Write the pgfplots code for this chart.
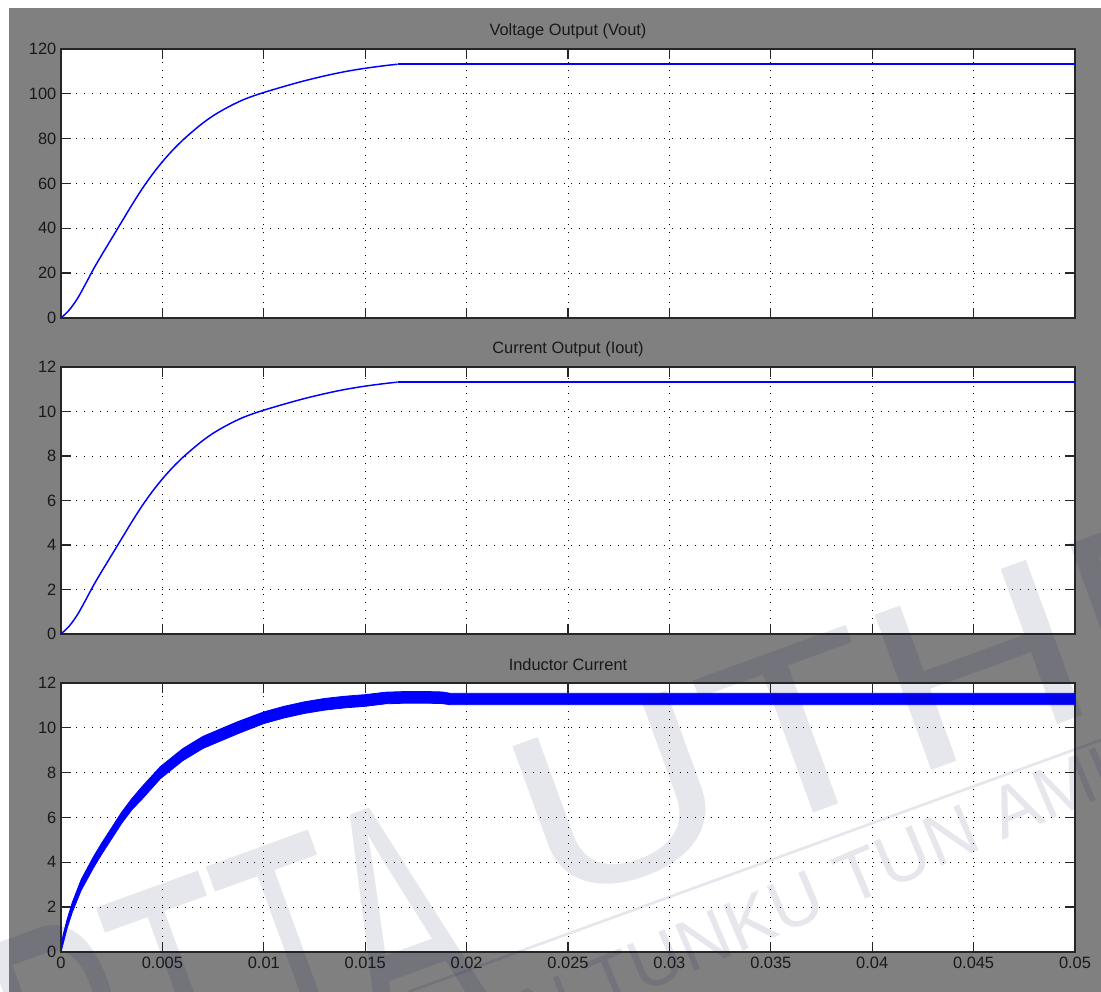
\documentclass[border=0pt]{standalone}
\usepackage{fontspec}
\setmainfont{Liberation Sans}
\usepackage{graphicx}
\usepackage{pgfplots}
\pgfplotsset{compat=1.18}
\definecolor{figgray}{RGB}{128,128,128}
\definecolor{mlblue}{RGB}{0,0,255}
\definecolor{wm}{RGB}{10,10,80}

\pgfplotsset{ml/.style={
  scale only axis, width=760.5pt, xmin=0, xmax=0.05,
  axis background/.style={fill=white},
  xtick={0,0.005,0.01,0.015,0.02,0.025,0.03,0.035,0.04,0.045,0.05},
  scaled x ticks=false, scaled y ticks=false,
  grid=major,
  major grid style={black, line width=0.7pt, dash pattern=on 0.7pt off 5.1pt},
  tick align=inside, major tick length=7.5pt,
  tick style={black!85, line width=1pt},
  axis line style={black!85, line width=1pt},
  tick label style={font=\fontsize{12.3}{14}\selectfont, text=black!90},
  /pgf/number format/assume math mode=true,
  title style={font=\fontsize{12.3}{14}\selectfont, anchor=center, yshift=7.5pt, inner sep=0pt, text=black!90},
}}

\begin{document}
\begin{tikzpicture}
\fill[white] (0,0) rectangle (825.75pt,744pt);
\fill[figgray] (6.75pt,0) rectangle (825.75pt,738pt);

% ---------- Voltage Output ----------
\begin{axis}[ml, at={(45.75pt,505.5pt)}, anchor=south west, height=201.75pt,
  ymin=0, ymax=120, ytick={0,20,40,60,80,100,120}, xticklabels={},
  title={Voltage Output (Vout)}]
\addplot[mlblue, line width=1.1pt, smooth] coordinates {
(0,0) (0.0004,3.5) (0.0008,8.5) (0.0012,15) (0.0016,21.8) (0.002,28)
(0.0025,35.5) (0.003,43) (0.0035,50.5) (0.004,57.6) (0.0045,64.0)
(0.005,69.7) (0.0055,74.8) (0.006,79.3) (0.0065,83.3) (0.007,87.0)
(0.0075,90.2) (0.008,92.9) (0.0085,95.3) (0.009,97.4) (0.0095,99.1)
(0.010,100.6) (0.011,103.3) (0.012,105.8) (0.013,108.0) (0.014,109.9)
(0.015,111.4) (0.016,112.6) (0.0166,113.2)};
\addplot[mlblue, line width=1.1pt] coordinates {(0.0166,113.2) (0.05,113.2)};
\end{axis}

% ---------- Current Output ----------
\begin{axis}[ml, at={(45.75pt,268.5pt)}, anchor=south west, height=200.25pt,
  ymin=0, ymax=12, ytick={0,2,4,6,8,10,12}, xticklabels={},
  title={Current Output (Iout)}]
\addplot[mlblue, line width=1.1pt, smooth] coordinates {
(0,0) (0.0004,0.35) (0.0008,0.85) (0.0012,1.5) (0.0016,2.18) (0.002,2.8)
(0.0025,3.55) (0.003,4.3) (0.0035,5.05) (0.004,5.76) (0.0045,6.40)
(0.005,6.97) (0.0055,7.48) (0.006,7.93) (0.0065,8.33) (0.007,8.70)
(0.0075,9.02) (0.008,9.29) (0.0085,9.53) (0.009,9.74) (0.0095,9.91)
(0.010,10.06) (0.011,10.33) (0.012,10.58) (0.013,10.80) (0.014,10.99)
(0.015,11.14) (0.016,11.26) (0.0166,11.32)};
\addplot[mlblue, line width=1.1pt] coordinates {(0.0166,11.32) (0.05,11.32)};
\end{axis}

% ---------- Inductor Current (ripple band: upper envelope, then lower envelope back) ----------
\begin{axis}[ml, at={(45.75pt,30pt)}, anchor=south west, height=201.75pt,
  ymin=0, ymax=12, ytick={0,2,4,6,8,10,12},
  xticklabels={0,0.005,0.01,0.015,0.02,0.025,0.03,0.035,0.04,0.045,0.05},
  title={Inductor Current}]
\addplot[draw=mlblue, fill=mlblue, line width=0.6pt] coordinates {
(0,0.15) (0.0001,0.75) (0.0003,1.45) (0.00056,2.22) (0.001,3.24) (0.0016,4.25)
(0.002,4.85) (0.0025,5.55) (0.003,6.25) (0.0035,6.85) (0.004,7.38)
(0.0049,8.27) (0.006,9.07) (0.007,9.62) (0.0087,10.27) (0.010,10.71)
(0.011,10.96) (0.012,11.16) (0.013,11.31) (0.014,11.41) (0.015,11.48)
(0.016,11.59) (0.017,11.62) (0.018,11.62) (0.0188,11.60) (0.0192,11.54)
(0.05,11.54)
(0.05,11.03) (0.0192,11.03) (0.0188,11.08) (0.018,11.10) (0.017,11.10)
(0.016,11.07) (0.015,10.96) (0.014,10.89) (0.013,10.79) (0.012,10.64)
(0.011,10.44) (0.010,10.19) (0.0087,9.73) (0.007,9.08) (0.006,8.53)
(0.0049,7.73) (0.004,6.82) (0.0035,6.35) (0.003,5.75) (0.0025,5.05)
(0.002,4.35) (0.0016,3.75) (0.001,2.76) (0.00056,1.78) (0.0003,1.05)
(0.0001,0.35) (0,0)} -- cycle;
\end{axis}

% ---------- watermark ----------
\begin{scope}
\clip (0,0) rectangle (825.75pt,744pt);
\node[overlay, anchor=base west, rotate=20, inner sep=0pt, text=wm, opacity=0.1]
  at (40.5pt,-140.25pt) {\scalebox{0.55}[1]{\fontsize{262}{262}\selectfont PTTA}};
\node[overlay, anchor=base west, rotate=20, inner sep=0pt, text=wm, opacity=0.1]
  at (411pt,61.5pt) {\scalebox{1.2}[1]{\fontsize{180}{180}\selectfont UTHM}};
\node[overlay, anchor=base west, rotate=23, inner sep=0pt, text=wm, opacity=0.1]
  at (37.5pt,-189.75pt) {\fontsize{54}{54}\selectfont PERPUSTAKAAN TUNKU TUN AMINAH};
\draw[overlay, wm, opacity=0.1, line width=2pt] (306pt,0pt) -- (825.75pt,189pt);
\end{scope}
\end{tikzpicture}
\end{document}
